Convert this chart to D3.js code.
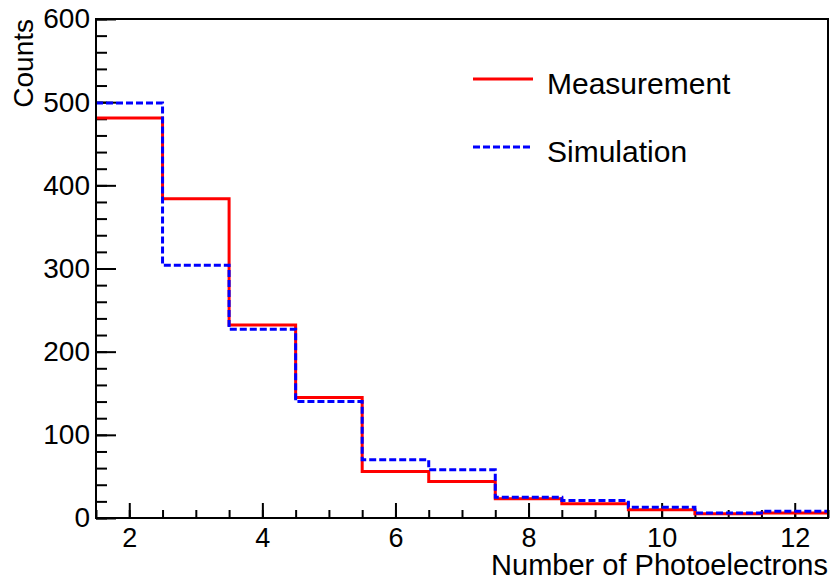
<html>
<head>
    <meta http-equiv="Content-Type" content="text/html;charset=UTF-8">
    <title>Photoelectrons</title>
    <style type="text/css">
        *{margin: 0;padding: 0;}
        body{background: #fff;}
        svg{display: block;}
        text{font-family: "Liberation Sans", Arial, Helvetica, sans-serif;}
    </style>
</head>
<body>
    <div class="container"></div>
    <script type="text/javascript" src="https://cdn.jsdelivr.net/npm/d3@7/dist/d3.min.js"></script>
    <script>
        // bin centres (number of photoelectrons) and counts per bin
        var bins = [2, 3, 4, 5, 6, 7, 8, 9, 10, 11, 12];
        var measurement = [481, 384, 232, 145, 56, 44, 23, 17, 10, 5, 6];
        var simulation  = [499, 304, 227, 140, 70, 58, 25, 21, 13, 6, 8];
        var xRange = [1.5, 12.5];
        var yRange = [0, 600];
        var xTicks = [2, 4, 6, 8, 10, 12];
        var yTicks = [0, 100, 200, 300, 400, 500, 600];

        var width = 832;
        var height = 579;
        var padL = 96, padR = 828, padT = 19, padB = 518;  // frame edges

        var svg = d3.select(".container")
            .append("svg")
            .attr("width", width)
            .attr("height", height);

        var x = d3.scaleLinear().domain(xRange).range([padL, padR]);
        var y = d3.scaleLinear().domain(yRange).range([padB, padT]);

        // minor ticks
        var xMinor = d3.range(xRange[0], xRange[1] + 0.001, 0.5);
        var yMinor = d3.range(yRange[0], yRange[1] + 0.001, 20);

        svg.append("g")
            .attr("transform", "translate(0," + padB + ")")
            .call(d3.axisBottom(x).tickValues(xMinor).tickSize(-8).tickFormat(""))
            .call(function (g) { g.select(".domain").remove(); })
            .selectAll("line").attr("stroke-width", 2);

        svg.append("g")
            .attr("transform", "translate(" + padL + ",0)")
            .call(d3.axisLeft(y).tickValues(yMinor).tickSize(-11).tickFormat(""))
            .call(function (g) { g.select(".domain").remove(); })
            .selectAll("line").attr("stroke-width", 2);

        // major ticks with labels
        var xAxis = svg.append("g")
            .attr("transform", "translate(0," + padB + ")")
            .call(d3.axisBottom(x).tickValues(xTicks).tickSize(-15).tickPadding(10).tickFormat(d3.format("d")))
            .call(function (g) { g.select(".domain").remove(); });
        xAxis.selectAll("line").attr("stroke-width", 2);
        xAxis.selectAll("text").attr("font-size", 27).attr("fill", "#000")
            .style("font-family", "'Liberation Sans', Arial, sans-serif");

        var yAxis = svg.append("g")
            .attr("transform", "translate(" + padL + ",0)")
            .call(d3.axisLeft(y).tickValues(yTicks).tickSize(-20).tickPadding(6).tickFormat(d3.format("d")))
            .call(function (g) { g.select(".domain").remove(); });
        yAxis.selectAll("line").attr("stroke-width", 2);
        yAxis.selectAll("text").attr("font-size", 28).attr("fill", "#000")
            .style("font-family", "'Liberation Sans', Arial, sans-serif");

        // histograms as step lines
        var step = d3.line()
            .x(function (d) { return x(d[0]); })
            .y(function (d) { return y(d[1]); })
            .curve(d3.curveStepAfter);

        function histPoints(values) {
            var pts = bins.map(function (c, i) { return [c - 0.5, values[i]]; });
            pts.push([bins[bins.length - 1] + 0.5, values[values.length - 1]]);
            return pts;
        }

        svg.append("path")
            .attr("d", step(histPoints(measurement)))
            .attr("fill", "none")
            .attr("stroke", "#ff0000")
            .attr("stroke-width", 3);

        svg.append("path")
            .attr("d", step(histPoints(simulation)))
            .attr("fill", "none")
            .attr("stroke", "#0000ff")
            .attr("stroke-width", 3)
            .attr("stroke-dasharray", "7,3");

        // frame
        svg.append("rect")
            .attr("x", padL)
            .attr("y", padT)
            .attr("width", padR - padL)
            .attr("height", padB - padT)
            .attr("fill", "none")
            .attr("stroke", "#000")
            .attr("stroke-width", 2);

        // axis titles
        svg.append("text")
            .attr("x", padR)
            .attr("y", 575)
            .attr("text-anchor", "end")
            .attr("font-size", 29)
            .text("Number of Photoelectrons");

        svg.append("text")
            .attr("transform", "translate(33," + padT + ") rotate(-90)")
            .attr("text-anchor", "end")
            .attr("font-size", 28)
            .text("Counts");

        // legend
        var legend = [
            {name: "Measurement", color: "#ff0000", dash: null, y: 79},
            {name: "Simulation", color: "#0000ff", dash: "7,3", y: 147}
        ];
        var lg = svg.selectAll(".legend")
            .data(legend)
            .enter()
            .append("g")
            .attr("class", "legend");
        lg.append("line")
            .attr("x1", 473).attr("x2", 533)
            .attr("y1", function (d) { return d.y; })
            .attr("y2", function (d) { return d.y; })
            .attr("stroke", function (d) { return d.color; })
            .attr("stroke-width", 3)
            .attr("stroke-dasharray", function (d) { return d.dash; });
        lg.append("text")
            .attr("x", 547)
            .attr("y", function (d) { return d.y + 15; })
            .attr("font-size", 30)
            .text(function (d) { return d.name; });
    </script>
</body>
</html>
